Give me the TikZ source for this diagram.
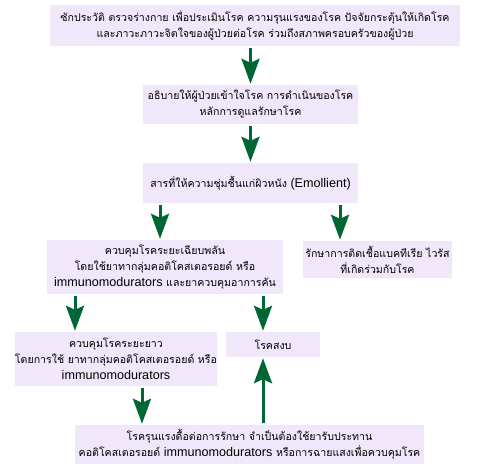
\documentclass[tikz,border=0pt]{standalone}
\usepackage{fontspec}
\setmainfont[Script=Thai]{Loma}
\newfontfamily\latfam{Liberation Sans}
\newcommand{\lat}{\latfam\fontsize{12.6}{16}\selectfont}
\usetikzlibrary{arrows.meta}
\definecolor{boxfill}{RGB}{240,232,250}
\definecolor{arrgreen}{RGB}{0,102,51}
\tikzset{
  box/.style={fill=boxfill, draw=none, align=center, inner sep=0pt,
    font=\fontsize{10.6}{16}\selectfont, text=black},
  arr/.style={draw=arrgreen, line width=3pt,
    -{Stealth[length=25pt,width=18pt,inset=4pt]},
    shorten <=2pt, shorten >=1pt}
}
\begin{document}
\begin{tikzpicture}[x=1pt,y=-1pt]
\path[use as bounding box, fill=white] (0,0) rectangle (500,469);
\node[box, minimum width=410pt, minimum height=41pt] (b1) at (255,25.5)
 {ซักประวัติ ตรวจร่างกาย เพื่อประเมินโรค ความรุนแรงของโรค ปัจจัยกระตุ้นให้เกิดโรค\\และภาวะภาวะจิตใจของผู้ป่วยต่อโรค ร่วมถึงสภาพครอบครัวของผู้ป่วย};
\node[box, minimum width=215pt, minimum height=39pt] (b2) at (250.5,104.5)
 {อธิบายให้ผู้ป่วยเข้าใจโรค การดำเนินของโรค\\หลักการดูแลรักษาโรค};
\node[box, minimum width=215pt, minimum height=40pt] (b3) at (250.5,183)
 {สารที่ให้ความชุ่มชื้นแก่ผิวหนัง {\lat (Emollient)}};
\node[box, minimum width=236pt, minimum height=54pt] (b4) at (165,267)
 {ควบคุมโรคระยะเฉียบพลัน\\โดยใช้ยาทากลุ่มคอติโคสเตอรอยด์ หรือ\\{\lat immunomodurators} และยาควบคุมอาการคัน};
\node[box, minimum width=149pt, minimum height=37pt] (b5) at (377.5,259.5)
 {รักษาการติดเชื้อแบคทีเรีย ไวรัส\\ที่เกิดร่วมกับโรค};
\node[box, minimum width=198pt, minimum height=54pt] (b6) at (116,359)
 {ควบคุมโรคระยะยาว\\โดยการใช้ ยาทากลุ่มคอติโคสเตอรอยด์ หรือ\\{\lat immunomodurators}};
\node[box, minimum width=94pt, minimum height=25pt] (b7) at (273,344.5)
 {โรคสงบ};
\node[box, minimum width=349pt, minimum height=39pt] (b8) at (249.5,444.5)
 {โรครุนแรงดื้อต่อการรักษา จำเป็นต้องใช้ยารับประทาน\\คอติโคสเตอรอยด์ {\lat immunomodurators} หรือการฉายแสงเพื่อควบคุมโรค};
\coordinate (xa) at (250.5,0);
\coordinate (xb) at (160,0);
\coordinate (xc) at (340,0);
\coordinate (xd) at (75,0);
\coordinate (xe) at (263,0);
\coordinate (xf) at (142,0);
\draw[arr] (b1.south -| xa) -- (b2.north -| xa);
\draw[arr] (b2.south -| xa) -- (b3.north -| xa);
\draw[arr] (b3.south -| xb) -- (b4.north -| xb);
\draw[arr] (b3.south -| xc) -- (b5.north -| xc);
\draw[arr] (b4.south -| xd) -- (b6.north -| xd);
\draw[arr] (b4.south -| xe) -- (b7.north -| xe);
\draw[arr] (b8.north -| xe) -- (b7.south -| xe);
\draw[arr] (b6.south -| xf) -- (b8.north -| xf);
\end{tikzpicture}
\end{document}
